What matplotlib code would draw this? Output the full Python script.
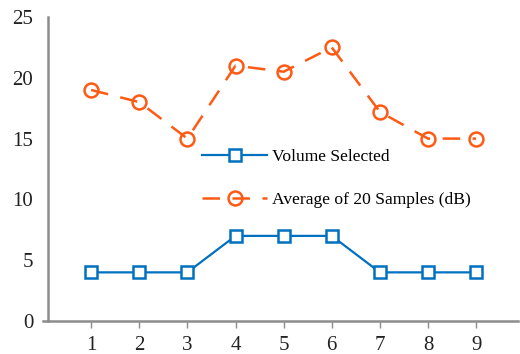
import matplotlib.pyplot as plt
import numpy as np

plt.rcParams['font.family'] = ['Liberation Serif', 'DejaVu Serif']

samples = [1, 2, 3, 4, 5, 6, 7, 8, 9]
volume_selected = [4, 4, 4, 7, 7, 7, 4, 4, 4]
avg_db = [19, 18, 15, 21, 20.5, 22.5, 17.2, 15, 15]

blue = '#0070C0'
orange = '#FF5A14'
grey = '#8C8C8C'

fig = plt.figure(figsize=(5.2, 3.54), dpi=100)
# axes box starts where the x axis line starts (a little left of the y axis)
ax = fig.add_axes([43 / 520, 33 / 354, 475 / 520, 304 / 354])

ax.plot(samples, volume_selected, color=blue, lw=1.6, marker='s', ms=8,
        mfc='white', mec=blue, mew=1.8, label='Volume Selected')
ax.plot(samples, avg_db, color=orange, lw=1.8, dashes=(7, 5), marker='o', ms=10,
        mfc='none', mec=orange, mew=1.8, label='Average of 20 Samples (dB)')

ax.set_xlim(0.0, 9.87)
ax.set_ylim(0, 25)
ax.set_xticks(samples)
ax.set_yticks([0, 5, 10, 15, 20, 25])
ax.tick_params(labelsize=15, labelcolor='#222222')
ax.tick_params(axis='x', length=5, width=1, color=grey, pad=5.5)
ax.tick_params(axis='y', length=0, pad=10.5)
for s in ['top', 'right']:
    ax.spines[s].set_visible(False)
for s in ['left', 'bottom']:
    ax.spines[s].set_color(grey)
    ax.spines[s].set_linewidth(1.8)
ax.spines['left'].set_position(('data', 0.1))

ax.legend(loc='upper left', bbox_to_anchor=(0.317, 0.595), frameon=False, fontsize=12.6,
          handlelength=3.7, labelspacing=1.55, borderpad=0, handletextpad=0.3)

fig.savefig('out.png', dpi=100)
